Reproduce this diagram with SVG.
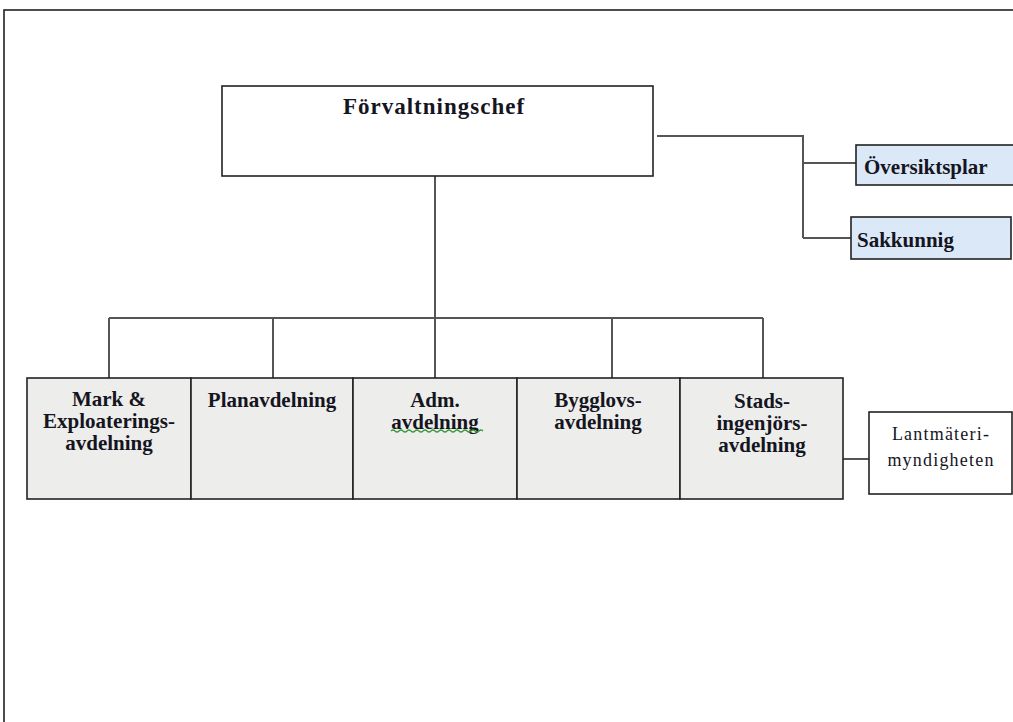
<svg xmlns="http://www.w3.org/2000/svg" width="1013" height="722" viewBox="0 0 1013 722">
<style>
.box{stroke:#222;stroke-width:1.6}
.gray{fill:#ededec}
.blue{fill:#dbe8f8}
.white{fill:#fff}
.conn{fill:none;stroke:#555;stroke-width:2}
.b{font-family:"Liberation Serif",serif;font-weight:bold;fill:#15151f;text-anchor:middle;font-size:21px}
.bl{font-family:"Liberation Serif",serif;font-weight:bold;fill:#15151f;font-size:21px}
.r{font-family:"Liberation Serif",serif;fill:#15151f;text-anchor:middle;letter-spacing:1.2px;font-size:18px}
</style>
<rect x="4" y="10" width="1030" height="800" fill="#fff" stroke="#222" stroke-width="1.6"/>
<g id="connectors">
<path class="conn" d="M435 176V318M109 318H763M109 318V378M273 318V378M435 318V378M612 318V378M763 318V378"/>
<path class="conn" d="M657 136H803V238M803 163H856M803 238H851"/>
<path class="conn" d="M843 459H869"/>
</g>
<g id="n-chef">
<rect class="box white" x="222" y="86" width="431" height="90"/>
<text class="b" x="434" y="114" style="font-size:23px" letter-spacing="1">Förvaltningschef</text>
</g>
<g id="n-oversikt">
<rect class="box blue" x="856" y="145" width="170" height="40"/>
<text class="bl" x="864" y="174">Översiktsplar</text>
</g>
<g id="n-sakkunnig">
<rect class="box blue" x="851" y="217" width="160" height="42"/>
<text class="bl" x="857" y="247">Sakkunnig</text>
</g>
<g id="n-mark">
<rect class="box gray" x="27" y="378" width="164" height="121"/>
<text class="b" x="109" y="406">Mark &amp;</text>
<text class="b" x="109" y="428">Exploaterings-</text>
<text class="b" x="109" y="450">avdelning</text>
</g>
<g id="n-plan">
<rect class="box gray" x="191" y="378" width="162" height="121"/>
<text class="b" x="272" y="407">Planavdelning</text>
</g>
<g id="n-adm">
<rect class="box gray" x="353" y="378" width="164" height="121"/>
<text class="b" x="435" y="407">Adm.</text>
<text class="b" x="435" y="429">avdelning</text>
<path d="M391 431q2-2 4 0t4 0t4 0t4 0t4 0t4 0t4 0t4 0t4 0t4 0t4 0t4 0t4 0t4 0t4 0t4 0t4 0t4 0t4 0t4 0t4 0t4 0t4 0" fill="none" stroke="#3a9a3a" stroke-width="1.2"/>
</g>
<g id="n-bygglov">
<rect class="box gray" x="517" y="378" width="163" height="121"/>
<text class="b" x="598" y="407">Bygglovs-</text>
<text class="b" x="598" y="429">avdelning</text>
</g>
<g id="n-stads">
<rect class="box gray" x="680" y="378" width="163" height="121"/>
<text class="b" x="762" y="408">Stads-</text>
<text class="b" x="762" y="430">ingenjörs-</text>
<text class="b" x="762" y="452">avdelning</text>
</g>
<g id="n-lantmateri">
<rect class="box white" x="869" y="412" width="143" height="82"/>
<text class="r" x="941" y="440">Lantmäteri-</text>
<text class="r" x="941" y="466">myndigheten</text>
</g>
</svg>
